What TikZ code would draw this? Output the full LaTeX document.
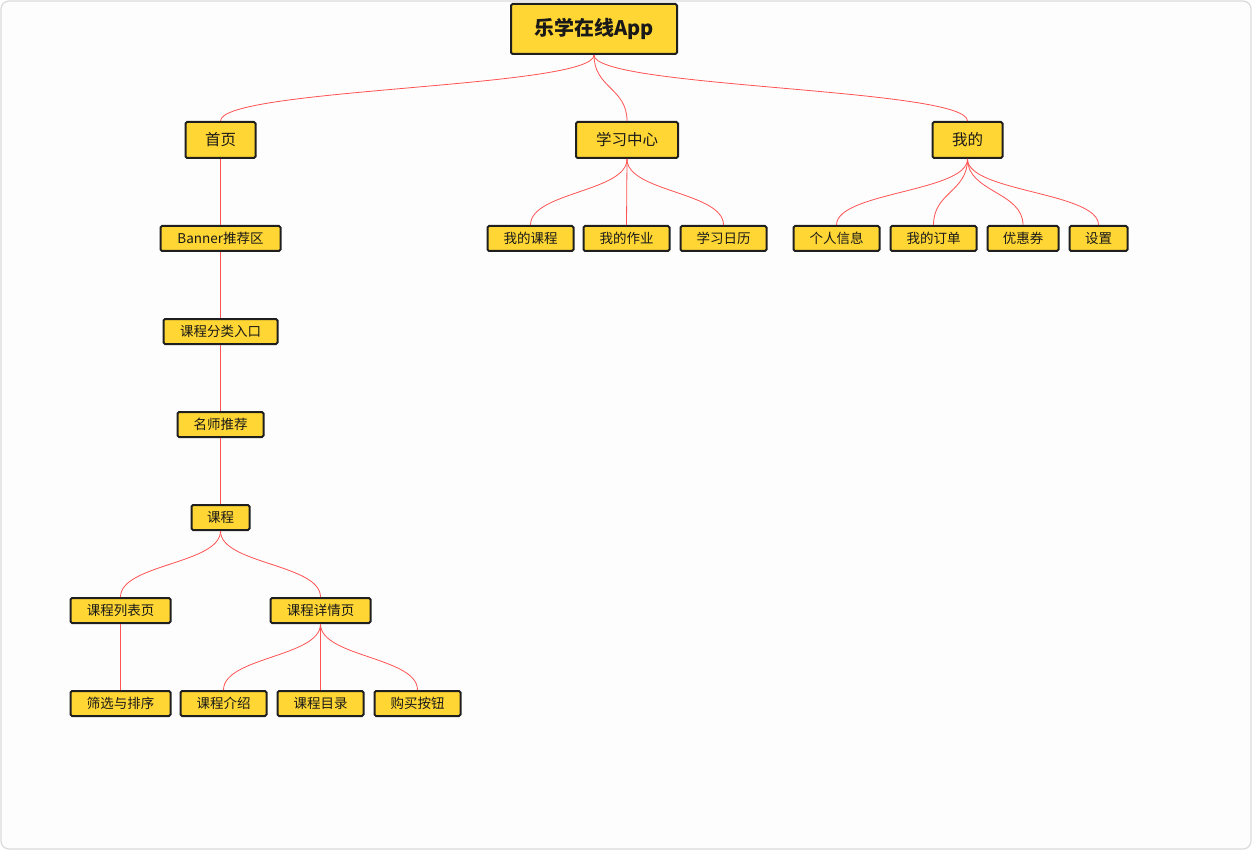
\documentclass[tikz,border=0pt]{standalone}
\usepackage{fontspec}
\setmainfont{Noto Sans CJK SC}
\definecolor{boxfill}{HTML}{FFD634}
\definecolor{boxline}{HTML}{1F1F1F}
\definecolor{linkred}{HTML}{FF5252}
\definecolor{framegray}{HTML}{DADADA}
\definecolor{bgwhite}{HTML}{FDFDFD}
\newcommand\tlink[2]{%
  \path (#1.south) -- (#2.north) coordinate[pos=0.5] (mid);
  \draw[link] (#1.south) .. controls (#1.south |- mid) and (#2.north |- mid) .. (#2.north);}
\begin{document}
\begin{tikzpicture}[x=1pt,y=-1pt,
  box/.style={draw=boxline, line width=2pt, fill=boxfill, rounded corners=1.5pt, inner sep=0pt, text=black!90},
  lvA/.style={box, minimum height=50pt, font=\fontsize{20}{24}\selectfont\bfseries},
  lvB/.style={box, minimum height=36pt, font=\fontsize{15.5}{18}\selectfont},
  lvC/.style={box, minimum height=25pt, font=\fontsize{13.5}{16}\selectfont},
  link/.style={draw=linkred, line width=0.8pt}]
\useasboundingbox (0,0) rectangle (1252,850);
\draw[draw=framegray, fill=bgwhite, rounded corners=8pt, line width=1.2pt] (1,1) rectangle (1251,849);

\node[lvA, minimum width=166pt] (root) at (594,29) {乐学在线App};
\node[lvB, minimum width=70pt] (home) at (220.5,140) {首页};
\node[lvB, minimum width=102pt] (study) at (627,140) {学习中心};
\node[lvB, minimum width=70pt] (mine) at (967.5,140) {我的};

\node[lvC, minimum width=120pt] (banner) at (220.5,238.5) {Banner推荐区};
\node[lvC, minimum width=86pt] (mycourse) at (530.5,238.5) {我的课程};
\node[lvC, minimum width=86pt] (homework) at (626.5,238.5) {我的作业};
\node[lvC, minimum width=86pt] (calendar) at (723.5,238.5) {学习日历};
\node[lvC, minimum width=86pt] (info) at (836.5,238.5) {个人信息};
\node[lvC, minimum width=86pt] (order) at (933.5,238.5) {我的订单};
\node[lvC, minimum width=71pt] (coupon) at (1023,238.5) {优惠券};
\node[lvC, minimum width=58pt] (settings) at (1098.5,238.5) {设置};

\node[lvC, minimum width=114pt] (category) at (220.5,331.5) {课程分类入口};
\node[lvC, minimum width=86pt] (teacher) at (220.5,424.5) {名师推荐};
\node[lvC, minimum width=58pt] (course) at (220.5,517.5) {课程};
\node[lvC, minimum width=100pt] (list) at (120.5,610.5) {课程列表页};
\node[lvC, minimum width=100pt] (detail) at (320.5,610.5) {课程详情页};
\node[lvC, minimum width=100pt] (filter) at (120.5,703.5) {筛选与排序};
\node[lvC, minimum width=86pt] (intro) at (223.5,703.5) {课程介绍};
\node[lvC, minimum width=86pt] (catalog) at (320.5,703.5) {课程目录};
\node[lvC, minimum width=86pt] (buy) at (417.5,703.5) {购买按钮};

\tlink{root}{home}
\tlink{root}{study}
\tlink{root}{mine}
\tlink{home}{banner}
\tlink{study}{mycourse}
\tlink{study}{homework}
\tlink{study}{calendar}
\tlink{mine}{info}
\tlink{mine}{order}
\tlink{mine}{coupon}
\tlink{mine}{settings}
\tlink{banner}{category}
\tlink{category}{teacher}
\tlink{teacher}{course}
\tlink{course}{list}
\tlink{course}{detail}
\tlink{list}{filter}
\tlink{detail}{intro}
\tlink{detail}{catalog}
\tlink{detail}{buy}
\end{tikzpicture}
\end{document}
